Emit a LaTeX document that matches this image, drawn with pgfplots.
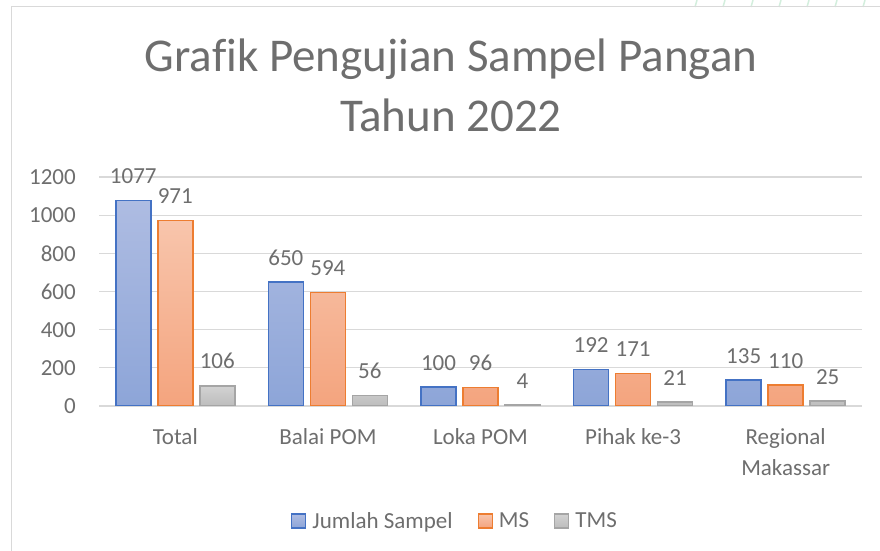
\documentclass[border=0pt]{standalone}
\usepackage{pgfplots}
\pgfplotsset{compat=1.18}
\usepackage{fontspec}
\setmainfont[Ligatures=NoCommon]{Carlito}

\definecolor{txt}{HTML}{6E6E6E}
\definecolor{gridc}{HTML}{D9D9D9}
\definecolor{framec}{HTML}{D9D9D9}
\definecolor{stripe}{HTML}{D3EEDD}
\definecolor{blueE}{HTML}{4472C4}
\definecolor{blueT}{HTML}{AEBCE2}
\definecolor{blueB}{HTML}{8DA5D8}
\definecolor{oranE}{HTML}{ED7D31}
\definecolor{oranT}{HTML}{F8C5AC}
\definecolor{oranB}{HTML}{F4A47E}
\definecolor{grayE}{HTML}{A5A5A5}
\definecolor{grayT}{HTML}{D2D2D2}
\definecolor{grayB}{HTML}{BDBDBD}

\newcommand{\lbl}{\fontsize{23}{31}\selectfont}

\begin{document}
\begin{tikzpicture}
\path[use as bounding box] (0pt,0pt) rectangle (880pt,551pt);
% faint page decoration behind the chart frame
\foreach \sx in {697,725,753,781,809,837,865}
  \draw[stripe, line width=1.5pt] (\sx pt,551pt) -- (\sx pt-2pt,544pt);
\draw[framec, line width=1pt] (11pt,0pt) -- (11pt,544pt) -- (880pt,544pt);

\node[font=\fontsize{47}{59}\selectfont, text=txt, anchor=base] at (451pt,479pt) {Grafik Pengujian Sampel Pangan};
\node[font=\fontsize{47}{59}\selectfont, text=txt, anchor=base] at (451pt,419pt) {Tahun 2022};

\begin{axis}[
  at={(99pt,145pt)}, anchor=south west,
  scale only axis,
  width=763pt, height=229pt,
  ybar=7pt, bar width=35pt,
  xmin=-0.5, xmax=4.5,
  ymin=0, ymax=1200,
  ytick={0,200,...,1200},
  xtick=data,
  xticklabels={Total,Balai POM,Loka POM,Pihak ke-3,Regional\\Makassar},
  axis line style={draw=none},
  tick style={draw=none},
  major tick length=0pt,
  ymajorgrids,
  grid style={gridc, line width=1.3pt},
  ticklabel style={font=\lbl, text=txt},
  yticklabel style={anchor=east, inner sep=0pt, xshift=-23pt},
  xticklabel style={anchor=north, inner sep=0pt, yshift=-22pt, align=center},
  /pgf/number format/assume math mode=true,
  /pgf/number format/1000 sep={},
  nodes near coords,
  every node near coord/.append style={font=\lbl, text=txt, anchor=south, inner sep=0pt, yshift=16pt},
  legend columns=3,
  legend style={at={(0.4666,-0.502)}, anchor=center, draw=none, fill=none,
    font=\lbl, text=txt, inner sep=0pt,
    /tikz/every even column/.append style={column sep=23pt},
    /tikz/every odd column/.append style={column sep=4pt}},
  legend image code/.code={\draw[#1, line width=1.3pt] (0pt,-7pt) rectangle (14pt,7pt);},
]
\addplot[draw=blueE, line width=1.5pt, top color=blueT, bottom color=blueB]
  coordinates {(0,1077) (1,650) (2,100) (3,192) (4,135)};
\addplot[draw=oranE, line width=1.5pt, top color=oranT, bottom color=oranB]
  coordinates {(0,971) (1,594) (2,96) (3,171) (4,110)};
\addplot[draw=grayE, line width=1.5pt, top color=grayT, bottom color=grayB]
  coordinates {(0,106) (1,56) (2,4) (3,21) (4,25)};
\legend{Jumlah Sampel,MS,TMS}
\end{axis}
\end{tikzpicture}
\end{document}
